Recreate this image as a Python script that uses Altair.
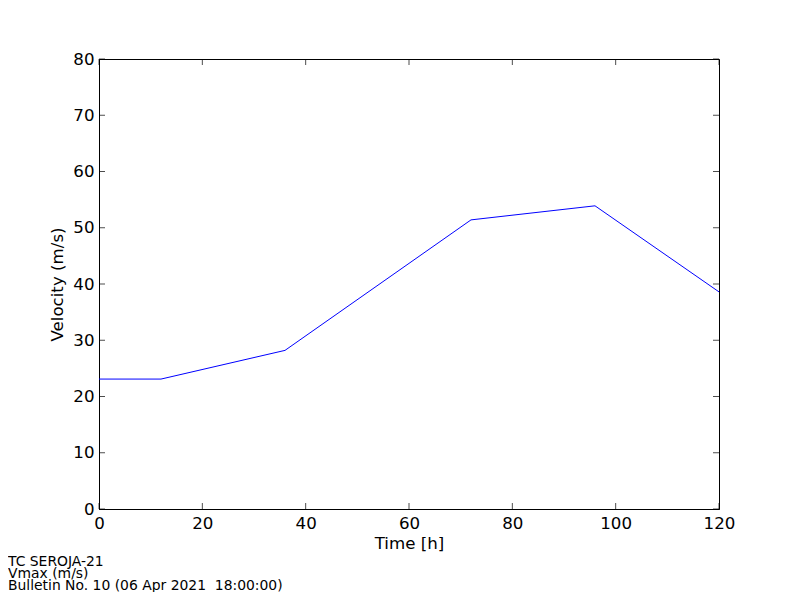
import altair as alt
import pandas as pd

hours = [0, 12, 36, 72, 96, 120]
vmax = [23.1, 23.1, 28.2, 51.4, 53.9, 38.6]
x_ticks = [0, 20, 40, 60, 80, 100, 120]
y_ticks = [0, 10, 20, 30, 40, 50, 60, 70, 80]
footer = ["TC SEROJA-21", "Vmax (m/s)", "Bulletin No. 10 (06 Apr 2021\u00a0 18:00:00)"]

df = pd.DataFrame({"t": hours, "v": vmax})
xt = pd.DataFrame({"t": x_ticks})
yt = pd.DataFrame({"v": y_ticks})
ft = pd.DataFrame({"k": [0]})

FONT = "DejaVu Sans"
xs = alt.Scale(domain=[0, 120], nice=False)
ys = alt.Scale(domain=[0, 80], nice=False)

line = alt.Chart(df).mark_line(color="#0000ff", strokeWidth=1).encode(
    x=alt.X("t:Q", scale=xs, title="Time [h]",
            axis=alt.Axis(values=x_ticks, tickSize=0, labelPadding=6, titlePadding=4,
                          labelFlush=False)),
    y=alt.Y("v:Q", scale=ys, title="Velocity (m/s)",
            axis=alt.Axis(values=y_ticks, tickSize=0, labelPadding=5, titlePadding=6,
                          labelFlush=False)),
)

tick_style = dict(color="black", thickness=1, size=6)
xt_top = alt.Chart(xt).mark_tick(orient="vertical", **tick_style).encode(
    x=alt.X("t:Q", scale=xs), y=alt.value(3))
xt_bot = alt.Chart(xt).mark_tick(orient="vertical", **tick_style).encode(
    x=alt.X("t:Q", scale=xs), y=alt.value(447))
yt_left = alt.Chart(yt).mark_tick(orient="horizontal", **tick_style).encode(
    y=alt.Y("v:Q", scale=ys), x=alt.value(3))
yt_right = alt.Chart(yt).mark_tick(orient="horizontal", **tick_style).encode(
    y=alt.Y("v:Q", scale=ys), x=alt.value(617))

foot = alt.Chart(ft).mark_text(
    text=footer, font=FONT, fontSize=13.9, lineHeight=12, align="left",
    baseline="top", color="black"
).encode(x=alt.value(-91), y=alt.value(496))

chart = alt.layer(line, xt_top, xt_bot, yt_left, yt_right, foot).properties(
    width=620, height=450,
    autosize=alt.AutoSizeParams(type="none"),
    padding={"left": 91, "top": 51, "right": 73, "bottom": 83},
).configure(background="white").configure_view(
    stroke="black", strokeWidth=1
).configure_axis(
    domainColor="black", domainWidth=1, grid=False,
    labelFont=FONT, labelFontSize=16.67, labelColor="black",
    titleFont=FONT, titleFontSize=16.67, titleFontWeight="normal", titleColor="black",
)

chart.save("out.html", embed_options={"renderer": "svg", "actions": False})
